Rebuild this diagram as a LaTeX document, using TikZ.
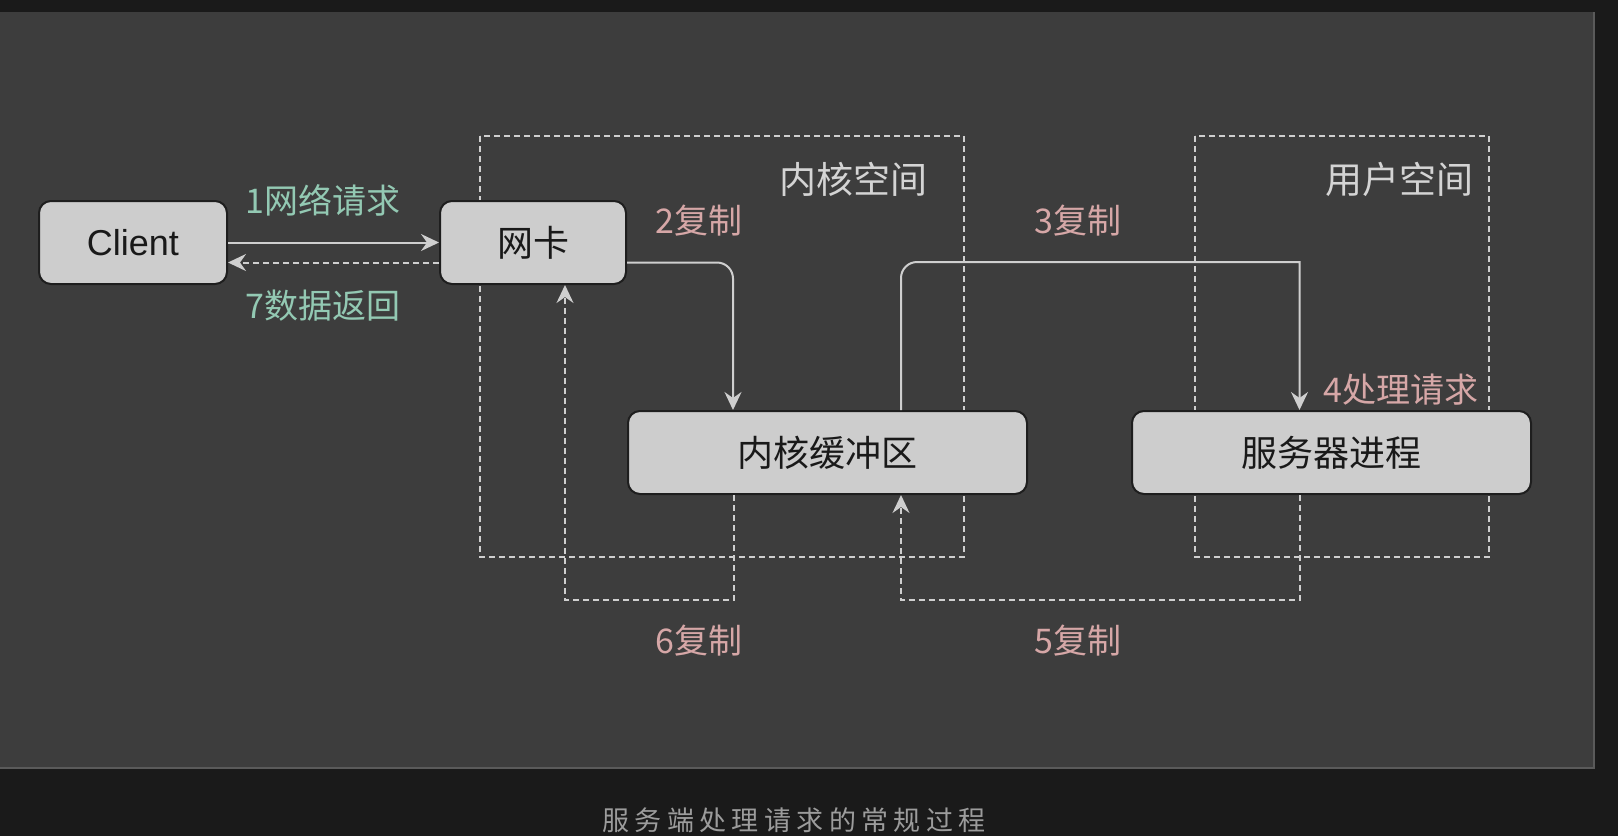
\documentclass[tikz,border=0pt]{standalone}
\usepackage{fontspec}
\setmainfont{Liberation Sans}
\newfontfamily\cjk{Noto Sans CJK SC}
\newfontfamily\capcjk[LetterSpace=20]{Noto Sans CJK SC}
\usetikzlibrary{arrows.meta}
\definecolor{pagebg}{HTML}{1A1A1A}
\definecolor{panelbg}{HTML}{3D3D3D}
\definecolor{panelrim}{HTML}{5A5A5A}
\definecolor{boxfill}{HTML}{CDCDCD}
\definecolor{boxline}{HTML}{1E1E1E}
\definecolor{lightline}{HTML}{CFCFCF}
\definecolor{netlbl}{HTML}{93C9B3}
\definecolor{cpylbl}{HTML}{D6A7A7}
\definecolor{arealbl}{HTML}{D4D4D4}
\definecolor{captxt}{HTML}{9C9C9C}
\begin{document}
\begin{tikzpicture}[x=0.5pt,y=-0.5pt,
  box/.style={draw=boxline,fill=boxfill,line width=1pt,rounded corners=6pt,text=black!90,minimum height=41.5pt,inner sep=0pt,font=\cjk\fontsize{18}{20}\selectfont},
  area/.style={draw=lightline,line width=1pt,dash pattern=on 3pt off 2pt},
  conn/.style={draw=lightline,line width=1pt,-{Stealth[length=9pt,width=8.5pt,inset=3pt]}},
  back/.style={conn,dash pattern=on 3pt off 2pt},
  netnote/.style={text=netlbl,font=\cjk\fontsize{17}{19}\selectfont},
  cpynote/.style={text=cpylbl,font=\cjk\fontsize{17}{19}\selectfont},
  areanote/.style={text=arealbl,font=\cjk\fontsize{18.5}{20}\selectfont}]
\useasboundingbox (0,0) rectangle (1618,836);
\fill[pagebg] (0,0) rectangle (1618,836);
\fill[panelbg] (0,12) rectangle (1594,767);
\draw[panelrim,line width=0.8pt] (0,768) -- (1594,768) -- (1594,12);
\draw[area] (480,136) rectangle (964,557);
\draw[area] (1195,136) rectangle (1489,557);
\node[areanote] (kspace) at (853,179) {内核空间};
\node[areanote] (uspace) at (1399,179) {用户空间};
\node[box,minimum width=94pt,font=\fontsize{18}{20}\selectfont] (client) at (133,242.5) {Client};
\node[box,minimum width=93pt] (nic) at (533,242.5) {网卡};
\node[box,minimum width=199.5pt] (kbuf) at (827.5,452.5) {内核缓冲区};
\node[box,minimum width=199.5pt] (server) at (1331.5,452.5) {服务器进程};
\draw[conn] (client.east) -- (nic.west);
\draw[back] ([yshift=-10pt]nic.west) -- ([yshift=-10pt]client.east);
\draw[conn,rounded corners=8pt] ([yshift=-10pt]nic.east) -| ([xshift=-47.25pt]kbuf.north);
\draw[conn,rounded corners=8pt] ([xshift=36.75pt]kbuf.north) -- ++(0,-148) [sharp corners] -| ([xshift=-16pt]server.north);
\draw[back] ([xshift=-16pt]server.south) -- ++(0,105) -| ([xshift=36.75pt]kbuf.south);
\draw[back] ([xshift=-46.75pt]kbuf.south) -- ++(0,105) -| ([xshift=16pt]nic.south);
\node[netnote] (req) at (323,200) {1网络请求};
\node[netnote] (ret) at (323,306) {7数据返回};
\node[cpynote] (cp2) at (699,221) {2复制};
\node[cpynote] (cp3) at (1078,221) {3复制};
\node[cpynote] (proc) at (1401,390) {4处理请求};
\node[cpynote] (cp6) at (699,641) {6复制};
\node[cpynote] (cp5) at (1078,641) {5复制};
\node[text=captxt,font=\capcjk\fontsize{13.5}{15}\selectfont] (caption) at (794,820) {服务端处理请求的常规过程};
\end{tikzpicture}
\end{document}
